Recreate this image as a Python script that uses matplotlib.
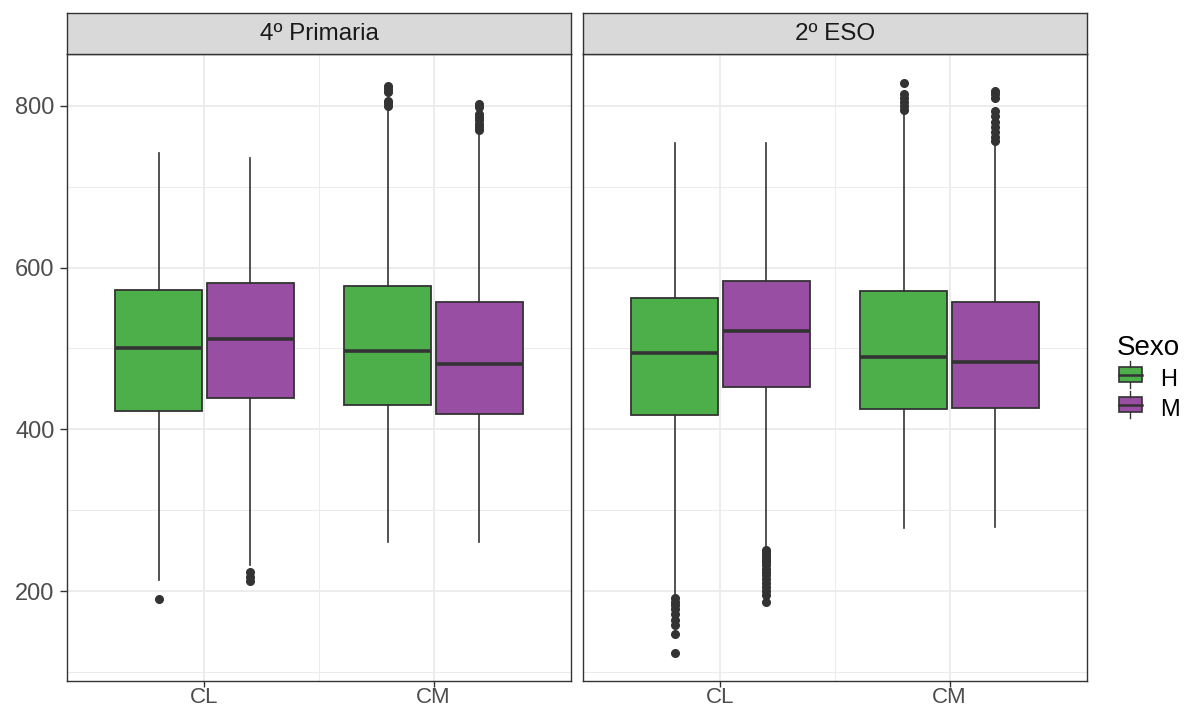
import matplotlib
matplotlib.use("Agg")
import matplotlib.pyplot as plt
from matplotlib.patches import Rectangle
from matplotlib.lines import Line2D
from matplotlib.legend_handler import HandlerBase

plt.rcParams["font.family"] = ["Liberation Sans", "DejaVu Sans"]

# ── Data ──────────────────────────────────────────────────────────────────────
panels   = ["4º Primaria", "2º ESO"]
subjects = ["CL", "CM"]
sexes    = ["H", "M"]
colors   = {"H": "#4DAF4A", "M": "#984EA3"}

# order: panel -> subject -> sex
q1    = [[[423, 439], [430, 419]], [[418, 452], [425, 426]]]
med   = [[[501, 512], [497, 481]], [[494, 522], [489, 483]]]
q3    = [[[572, 581], [577, 557]], [[562, 584], [571, 557]]]
wlo   = [[[214, 232], [261, 261]], [[195, 254], [278, 279]]]
whi   = [[[742, 736], [796, 766]], [[754, 754], [791, 754]]]
fliers = [
    [[[190], [224, 218, 213]],
     [[800, 803, 806, 817, 821, 825], [770, 774, 778, 782, 786, 790, 798, 802]]],
    [[[191, 187, 183, 178, 172, 165, 158, 147, 124],
      [251, 248, 245, 242, 239, 236, 232, 228, 224, 220, 215, 210, 205, 200, 195, 187]],
     [[795, 800, 805, 810, 815, 828], [757, 762, 768, 774, 780, 787, 793, 810, 815, 818]]],
]

EDGE = "#333333"


class BoxKey(HandlerBase):
    """ggplot-like legend key: small box with median and whisker stubs."""
    def __init__(self, color):
        super().__init__()
        self.color = color

    def create_artists(self, legend, orig, xd, yd, w, h, fs, trans):
        cx = xd + w / 2
        bw = w * 0.9
        rect = Rectangle((cx - bw / 2, yd + h * 0.1), bw, h * 0.8,
                         facecolor=self.color, edgecolor=EDGE, lw=1.2, transform=trans)
        mid = Line2D([cx - bw / 2, cx + bw / 2], [yd + h / 2] * 2, color=EDGE, lw=1.8, transform=trans)
        top = Line2D([cx, cx], [yd + h * 0.9, yd + h * 1.2], color=EDGE, lw=1.0, transform=trans)
        bot = Line2D([cx, cx], [yd - h * 0.2, yd + h * 0.1], color=EDGE, lw=1.0, transform=trans)
        return [rect, mid, top, bot]


fig = plt.figure(figsize=(11.89, 7.13), dpi=100)
W, H = 1189, 713
lefts  = [67, 583]
pw     = 504
p_top, p_bot, s_top = 54, 681, 13

for p, name in enumerate(panels):
    ax = fig.add_axes([lefts[p] / W, 1 - p_bot / H, pw / W, (p_bot - p_top) / H])
    for s in range(len(subjects)):
        for k, sx in enumerate(sexes):
            stats = [dict(med=med[p][s][k], q1=q1[p][s][k], q3=q3[p][s][k],
                          whislo=wlo[p][s][k], whishi=whi[p][s][k], fliers=fliers[p][s][k])]
            pos = s + 1 + (-0.2 if k == 0 else 0.2)
            ax.bxp(stats, positions=[pos], widths=0.38, patch_artist=True, showcaps=False,
                   boxprops=dict(facecolor=colors[sx], edgecolor=EDGE, linewidth=1.3),
                   medianprops=dict(color=EDGE, linewidth=2.6),
                   whiskerprops=dict(color=EDGE, linewidth=1.2),
                   flierprops=dict(marker="o", markersize=5.5, markerfacecolor=EDGE,
                                   markeredgecolor=EDGE, linestyle="none"),
                   zorder=3)
    ax.set_xlim(0.4, 2.6)
    ax.set_ylim(89, 864)
    ax.set_xticks([1, 2])
    ax.set_xticklabels(subjects)
    ax.set_yticks([200, 400, 600, 800])
    ax.set_yticks([100, 300, 500, 700], minor=True)
    ax.set_xticks([1.5], minor=True)
    ax.grid(which="major", color="#EBEBEB", linewidth=1.3, zorder=0)
    ax.grid(which="minor", color="#EBEBEB", linewidth=0.7, zorder=0)
    ax.set_axisbelow(True)
    for sp in ax.spines.values():
        sp.set_color("#333333")
        sp.set_linewidth(1.0)
    ax.tick_params(axis="y", which="major", length=5, width=1.0, color="#333333",
                   labelsize=17, labelcolor="#4D4D4D", pad=4)
    ax.tick_params(axis="x", which="major", length=4, width=1.0, color="#333333",
                   labelsize=16, labelcolor="#4D4D4D", pad=0.3)
    ax.tick_params(which="minor", length=0)
    if p == 1:
        ax.tick_params(axis="y", which="major", left=False, labelleft=False)

    # strip
    sax = fig.add_axes([lefts[p] / W, 1 - p_top / H, pw / W, (p_top - s_top) / H])
    sax.set_facecolor("#D9D9D9")
    sax.set_xticks([])
    sax.set_yticks([])
    for sp in sax.spines.values():
        sp.set_color("#333333")
        sp.set_linewidth(1.0)
    sax.text(0.5, 0.5, name, ha="center", va="center", fontsize=17.5, color="#1A1A1A",
             transform=sax.transAxes)

handles = [Rectangle((0, 0), 1, 1) for _ in sexes]
leg = fig.legend(handles, sexes, title="Sexo", loc="center left",
                 bbox_to_anchor=(1096 / W, 1 - 378 / H), frameon=False,
                 fontsize=17, title_fontsize=20, handlelength=1.1, handleheight=0.9,
                 handletextpad=0.7, labelspacing=0.3,
                 handler_map={h: BoxKey(colors[sx]) for h, sx in zip(handles, sexes)})
leg._legend_box.align = "left"

fig.savefig("out.png", dpi=100)
